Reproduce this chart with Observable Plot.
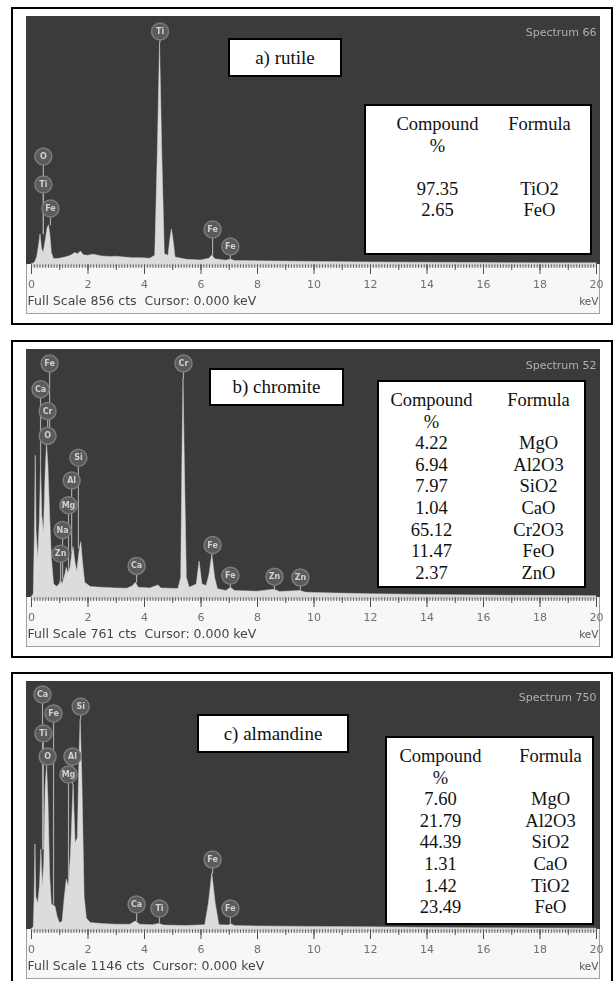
<!DOCTYPE html>
<html>
<head>
<meta charset="utf-8">
<script src="https://cdn.jsdelivr.net/npm/d3@7"></script>
<script src="https://cdn.jsdelivr.net/npm/@observablehq/plot@0.6"></script>
<style>
  body { margin: 0; background: #fff; }
  #page { position: relative; width: 614px; height: 981px; overflow: hidden; background: #fff; }
  .outer { position: absolute; left: 11px; width: 602px; height: 318px; border: 2px solid #000; box-sizing: border-box; }
  .screen { position: absolute; left: 26px; width: 574px; height: 298px; background: #f7f7f7; box-sizing: border-box; border: 1px solid #a0a0a0; border-top: none; }
  .dark { position: absolute; left: 26px; width: 574px; height: 248px; background: #3b3b3b; }
  .plotwrap { position: absolute; left: 26px; width: 582px; height: 298px; overflow: hidden; }
  .plotwrap svg { position: absolute; left: -26px; top: 0; max-width: none !important; width: 614px !important; height: 298px !important; }
  .lbl { position: absolute; box-sizing: border-box; border: 2.5px solid #000; background: #fff;
         font-family: "Liberation Serif", "Times New Roman", serif; font-size: 19px; color: #111;
         display: flex; align-items: center; justify-content: center; }
  .tbl { position: absolute; box-sizing: border-box; border: 2.5px solid #000; background: #fff; padding-top: 8px;
         font-family: "Liberation Serif", "Times New Roman", serif; font-size: 18.5px; color: #111; }
  .row { position: relative; height: 21.6px; line-height: 21.6px; }
  .row span { position: absolute; width: 120px; text-align: center; white-space: nowrap; }
</style>
</head>
<body>
<div id="page"></div>
<script>
// ---------- data ----------
const xTicks = [0, 2, 4, 6, 8, 10, 12, 14, 16, 18, 20];

// a) rutile  (keV, counts)
const rutileSpectrum = [[0,0],[0.12,6],[0.2,24],[0.26,60],[0.32,104],[0.37,55],[0.43,40],[0.5,80],[0.57,125],[0.62,135],[0.67,100],[0.72,40],[0.8,18],[1.0,20],[1.2,24],[1.4,30],[1.55,40],[1.65,35],[1.75,45],[1.85,32],[2.0,30],[2.2,34],[2.5,28],[2.8,26],[3.0,27],[3.3,24],[3.6,22],[3.9,22],[4.2,20],[4.38,30],[4.47,380],[4.55,766],[4.63,380],[4.72,35],[4.85,30],[4.92,90],[4.97,121],[5.02,90],[5.1,24],[5.5,16],[6.0,14],[6.3,20],[6.4,31],[6.5,18],[6.9,13],[7.05,17],[7.2,12],[8,11],[10,9],[12,7],[14,6],[16,5],[18,4],[20,4]];
const rutileLines    = ["O", "Ti", "Fe", "Ti", "Fe", "Fe"];
const rutileLineKeV  = [0.42, 0.42, 0.67, 4.55, 6.41, 7.04];
const rutileLineTop  = [104, 104, 135, 766, 31, 17];
const rutilePct      = [97.35, 2.65];
const rutileFormula  = ["TiO2", "FeO"];

// b) chromite
const chromiteSpectrum = [[0,0],[0.08,10],[0.12,200],[0.15,435],[0.18,200],[0.24,120],[0.3,250],[0.34,411],[0.38,250],[0.44,200],[0.5,380],[0.55,472],[0.6,400],[0.66,250],[0.72,120],[0.8,40],[0.9,33],[1.0,40],[1.04,55],[1.1,40],[1.2,70],[1.25,91],[1.3,75],[1.38,90],[1.45,140],[1.49,155],[1.55,110],[1.62,80],[1.7,140],[1.76,170],[1.82,110],[1.9,45],[2.1,32],[2.5,30],[3.0,28],[3.4,27],[3.6,35],[3.69,45],[3.8,30],[4.2,28],[4.5,37],[4.6,28],[5.2,26],[5.3,60],[5.34,400],[5.38,672],[5.43,400],[5.5,60],[5.6,30],[5.85,40],[5.95,110],[6.05,40],[6.2,35],[6.3,70],[6.4,131],[6.5,60],[6.6,25],[6.9,20],[7.06,30],[7.2,20],[8,18],[8.6,24],[8.8,17],[9.5,20],[9.7,15],[10,14],[12,10],[14,8],[16,6],[18,5],[20,4]];
const chromiteLines   = ["Fe", "Ca", "Cr", "O", "Si", "Al", "Mg", "Na", "Zn", "Cr", "Ca", "Fe", "Fe", "Zn", "Zn"];
const chromiteLineKeV = [0.64, 0.32, 0.57, 0.57, 1.66, 1.42, 1.31, 1.10, 1.03, 5.38, 3.72, 6.41, 7.04, 8.6, 9.52];
const chromiteLineTop = [472, 411, 472, 472, 150, 140, 85, 55, 45, 672, 45, 131, 30, 24, 20];
const chromitePct     = [4.22, 6.94, 7.97, 1.04, 65.12, 11.47, 2.37];
const chromiteFormula = ["MgO", "Al2O3", "SiO2", "CaO", "Cr2O3", "FeO", "ZnO"];

// c) almandine
const almandineSpectrum = [[0,0],[0.08,10],[0.11,150],[0.14,393],[0.17,150],[0.24,120],[0.3,200],[0.35,370],[0.4,200],[0.45,300],[0.5,650],[0.55,762],[0.6,600],[0.66,250],[0.72,115],[0.85,105],[0.92,60],[1.0,30],[1.1,35],[1.18,150],[1.25,231],[1.32,200],[1.4,350],[1.49,670],[1.56,400],[1.64,420],[1.7,800],[1.74,970],[1.8,700],[1.88,150],[1.96,50],[2.1,30],[2.5,25],[3.0,22],[3.5,22],[3.69,37],[3.85,22],[4.3,20],[4.51,25],[4.7,18],[5.5,16],[6.15,20],[6.28,120],[6.4,259],[6.52,120],[6.65,20],[7.0,18],[7.06,25],[7.2,16],[8,14],[10,12],[12,10],[14,8],[16,6],[18,5],[20,4]];
const almandineLines   = ["Ca", "Fe", "Ti", "O", "Si", "Al", "Mg", "Ca", "Ti", "Fe", "Fe"];
const almandineLineKeV = [0.39, 0.78, 0.42, 0.57, 1.74, 1.45, 1.31, 3.72, 4.53, 6.41, 7.04];
const almandineLineTop = [370, 115, 370, 762, 970, 670, 231, 37, 25, 259, 25];
const almandinePct     = [7.60, 21.79, 44.39, 1.31, 1.42, 23.49];
const almandineFormula = ["MgO", "Al2O3", "SiO2", "CaO", "TiO2", "FeO"];

// ---------- layout (positions of the peak-label markers, in counts; boxes in px) ----------
const panels = [
  { top: 7, fullScale: 856, spectrumName: "Spectrum 66", title: "a) rutile",
    spectrum: rutileSpectrum, lines: rutileLines, lineKeV: rutileLineKeV, lineTop: rutileLineTop,
    markerCts: [373, 276, 193, 804, 121, 62],
    pct: rutilePct, formula: rutileFormula, gap: true,
    box: {left: 228, top: 38, w: 114, h: 39},
    table: {left: 364, top: 104, w: 228, h: 151, c1: 74, c2: 176} },
  { top: 340, fullScale: 761, spectrumName: "Spectrum 52", title: "b) chromite",
    spectrum: chromiteSpectrum, lines: chromiteLines, lineKeV: chromiteLineKeV, lineTop: chromiteLineTop,
    markerCts: [718, 639, 572, 496, 429, 359, 283, 207, 134, 718, 97, 161, 67, 64, 61],
    pct: chromitePct, formula: chromiteFormula, gap: false,
    box: {left: 209, top: 368, w: 135, h: 38},
    table: {left: 377, top: 380, w: 209, h: 208, c1: 55, c2: 162} },
  { top: 672, fullScale: 1146, spectrumName: "Spectrum 750", title: "c) almandine",
    spectrum: almandineSpectrum, lines: almandineLines, lineKeV: almandineLineKeV, lineTop: almandineLineTop,
    markerCts: [1086, 998, 906, 799, 1030, 799, 716, 116, 97, 323, 97],
    pct: almandinePct, formula: almandineFormula, gap: false,
    box: {left: 197, top: 714, w: 152, h: 39},
    table: {left: 385, top: 736, w: 209, h: 189, c1: 56, c2: 166} }
];

const page = document.getElementById("page");
function el(tag, cls, style, text) {
  const e = document.createElement(tag);
  if (cls) e.className = cls;
  if (style) Object.assign(e.style, style);
  if (text != null) e.textContent = text;
  return e;
}

for (const p of panels) {
  const T = p.top;
  page.appendChild(el("div", "outer", {top: T + "px"}));
  page.appendChild(el("div", "screen", {top: (T + 9) + "px"}));
  page.appendChild(el("div", "dark", {top: (T + 9) + "px"}));

  const spec = p.spectrum.map(([keV, cts]) => ({keV, cts}));
  const markers = p.lines.map((e, i) => ({el: e, keV: p.lineKeV[i], y: p.markerCts[i], end: p.lineTop[i]}));

  const chart = Plot.plot({
    width: 614, height: 298,
    marginLeft: 31, marginRight: 18, marginTop: 0, marginBottom: 50,
    x: {domain: [0, 20]},
    y: {domain: [0, p.fullScale], axis: null},
    style: {fontFamily: "'DejaVu Sans', Verdana, sans-serif", background: "transparent", filter: "blur(0.45px)", overflow: "visible"},
    marks: [
      Plot.ruleY([0], {stroke: "#cdcdcd", strokeWidth: 2, dy: 1}),
      Plot.axisX({ticks: 200, tickSize: 4, tickFormat: () => "", stroke: "#6a6a6a", label: null}),
      Plot.axisX({ticks: 20, tickSize: 6, tickFormat: () => "", stroke: "#5a5a5a", label: null}),
      Plot.axisX({ticks: xTicks, tickSize: 10, tickPadding: 6, fontSize: 11, fill: "#707070", stroke: "#505050", label: null}),
      Plot.areaY(spec, {x: "keV", y: "cts", fill: "#dcdcdc", stroke: "#d0d0d0", strokeWidth: 0.5, curve: "linear"}),
      Plot.link(markers, {x1: "keV", x2: "keV", y1: "y", y2: "end", stroke: "#a8a8a8", strokeWidth: 1.2}),
      Plot.dot(markers, {x: "keV", y: "y", r: 8.5, fill: "#5b5b5b", stroke: "#7c7c7c", strokeWidth: 1.5}),
      Plot.text(markers, {x: "keV", y: "y", text: "el", fill: "#d0d0d0", fontSize: 8, fontWeight: "bold"}),
      Plot.text([p.spectrumName], {frameAnchor: "top-right", dy: 12, textAnchor: "end", fill: "#b0b0b0", fontSize: 11}),
      Plot.text([`Full Scale ${p.fullScale} cts \u00a0Cursor: 0.000 keV`], {frameAnchor: "bottom-left", dx: -4, dy: 40, textAnchor: "start", fill: "#454545", fontSize: 12.5}),
      Plot.text(["keV"], {frameAnchor: "bottom-right", dx: 2, dy: 40, textAnchor: "end", fill: "#555", fontSize: 10.5})
    ]
  });
  const wrap = el("div", "plotwrap", {top: (T + 9) + "px"});
  wrap.appendChild(chart);
  page.appendChild(wrap);

  // title box
  const b = p.box;
  page.appendChild(el("div", "lbl", {left: b.left + "px", top: b.top + "px", width: b.w + "px", height: b.h + "px"}, p.title));

  // composition table
  const t = p.table;
  const tbl = el("div", "tbl", {left: t.left + "px", top: t.top + "px", width: t.w + "px", height: t.h + "px"});
  const rows = [["Compound", "Formula"], ["%", ""]];
  if (p.gap) rows.push(["", ""]);
  p.pct.forEach((v, i) => rows.push([v.toFixed(2), p.formula[i]]));
  for (const [c1, c2] of rows) {
    const r = el("div", "row");
    r.appendChild(el("span", null, {left: (t.c1 - 60 - 2.5) + "px"}, c1));
    r.appendChild(el("span", null, {left: (t.c2 - 60 - 2.5) + "px"}, c2));
    tbl.appendChild(r);
  }
  page.appendChild(tbl);
}
</script>
</body>
</html>
